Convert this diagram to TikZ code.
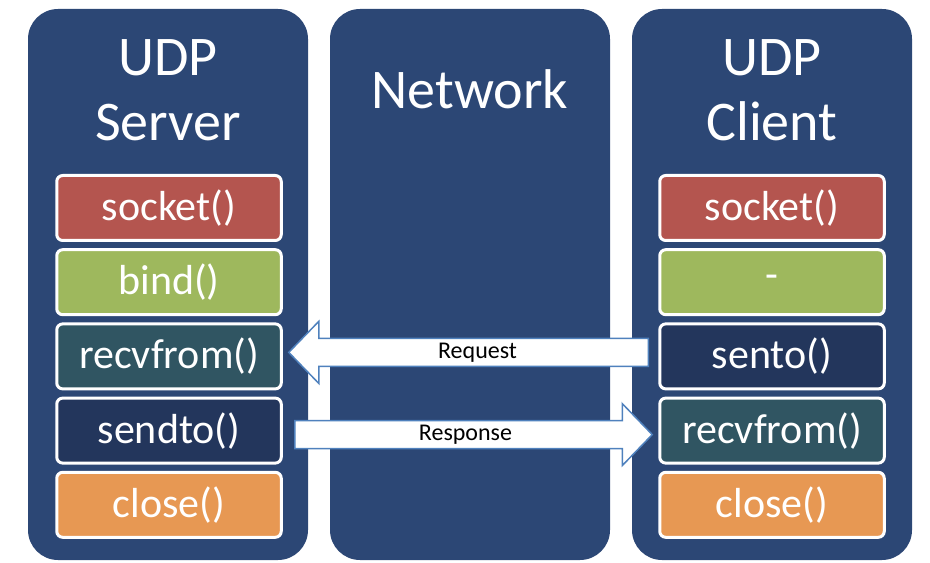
\documentclass[tikz,border=0pt]{standalone}
\usepackage{fontspec}
\setmainfont{Carlito}
\usetikzlibrary{positioning,calc}
\definecolor{fondcol}{RGB}{44,71,117}
\definecolor{rougesock}{RGB}{180,85,79}
\definecolor{vertbind}{RGB}{158,184,93}
\definecolor{sarcelle}{RGB}{48,85,98}
\definecolor{marine}{RGB}{35,54,92}
\definecolor{orangeclose}{RGB}{231,152,83}
\definecolor{bordfleche}{RGB}{79,129,189}

\begin{document}
\begin{tikzpicture}[x=0.5pt,y=0.5pt,
  colonne/.style={fill=fondcol, rounded corners=15pt},
  titre/.style={text=white, align=center, inner sep=0pt, font=\fontsize{28}{32.5}\selectfont},
  etape/.style={draw=white, line width=1.5pt, rounded corners=3pt, minimum width=112.25pt,
    minimum height=32.5pt, inner sep=0pt, text=white, font=\fontsize{21}{25}\selectfont},
  grossefleche/.style={fill=white, draw=bordfleche, line width=0.75pt, line join=miter},
  legende/.style={inner sep=0pt, font=\fontsize{12}{14}\selectfont},
  node distance=3.1pt]
\useasboundingbox (0,0) rectangle (930,562);
%colonnes
\fill[colonne] (28,2) rectangle (308,553);
\fill[colonne] (330,2) rectangle (610,553);
\fill[colonne] (632,2) rectangle (912,553);
%titres
\node[titre, anchor=north] (tserv) at (168,523) {UDP\\Server};
\node[titre, anchor=north] (tnet) at (470,493) {Network};
\node[titre, anchor=north] (tcli) at (772,523) {UDP\\Client};
%serveur
\node[etape, fill=rougesock] (ssock) at (169,354) {socket()};
\node[etape, fill=vertbind, below=of ssock] (sbind) {bind()};
\node[etape, fill=sarcelle, below=of sbind] (srecv) {recvfrom()};
\node[etape, fill=marine, below=of srecv] (ssend) {sendto()};
\node[etape, fill=orangeclose, below=of ssend] (sclose) {close()};
%client
\node[etape, fill=rougesock] (csock) at (772,354) {socket()};
\node[etape, fill=vertbind, below=of csock] (cbind) {-};
\node[etape, fill=marine, below=of cbind] (csent) {sento()};
\node[etape, fill=sarcelle, below=of csent] (crecv) {recvfrom()};
\node[etape, fill=orangeclose, below=of crecv] (cclose) {close()};
%fleches
\coordinate (reqtip) at ($(srecv.east)+(6,4)$);
\coordinate (reqtail) at ($(csent.west)+(-10,4)$);
\draw[grossefleche] (reqtip) -- ++(30,31) -- ++(0,-17) -- ($(reqtail)+(0,14)$)
  -- ($(reqtail)+(0,-14)$) -- ($(reqtip)+(30,-14)$) -- ++(0,-17) -- cycle;
\node[legende] (lreq) at ($(reqtip)!0.5!(reqtail)+(9,0)$) {Request};
\coordinate (restail) at ($(ssend.east)+(12,-4)$);
\coordinate (restip) at ($(crecv.west)+(-6,-4)$);
\draw[grossefleche] (restip) -- ++(-30,31) -- ++(0,-17) -- ($(restail)+(0,14)$)
  -- ($(restail)+(0,-14)$) -- ($(restip)+(-30,-14)$) -- ++(0,-17) -- cycle;
\node[legende] (lres) at ($(restail)!0.5!(restip)+(-8,0)$) {Response};
\end{tikzpicture}
\end{document}
